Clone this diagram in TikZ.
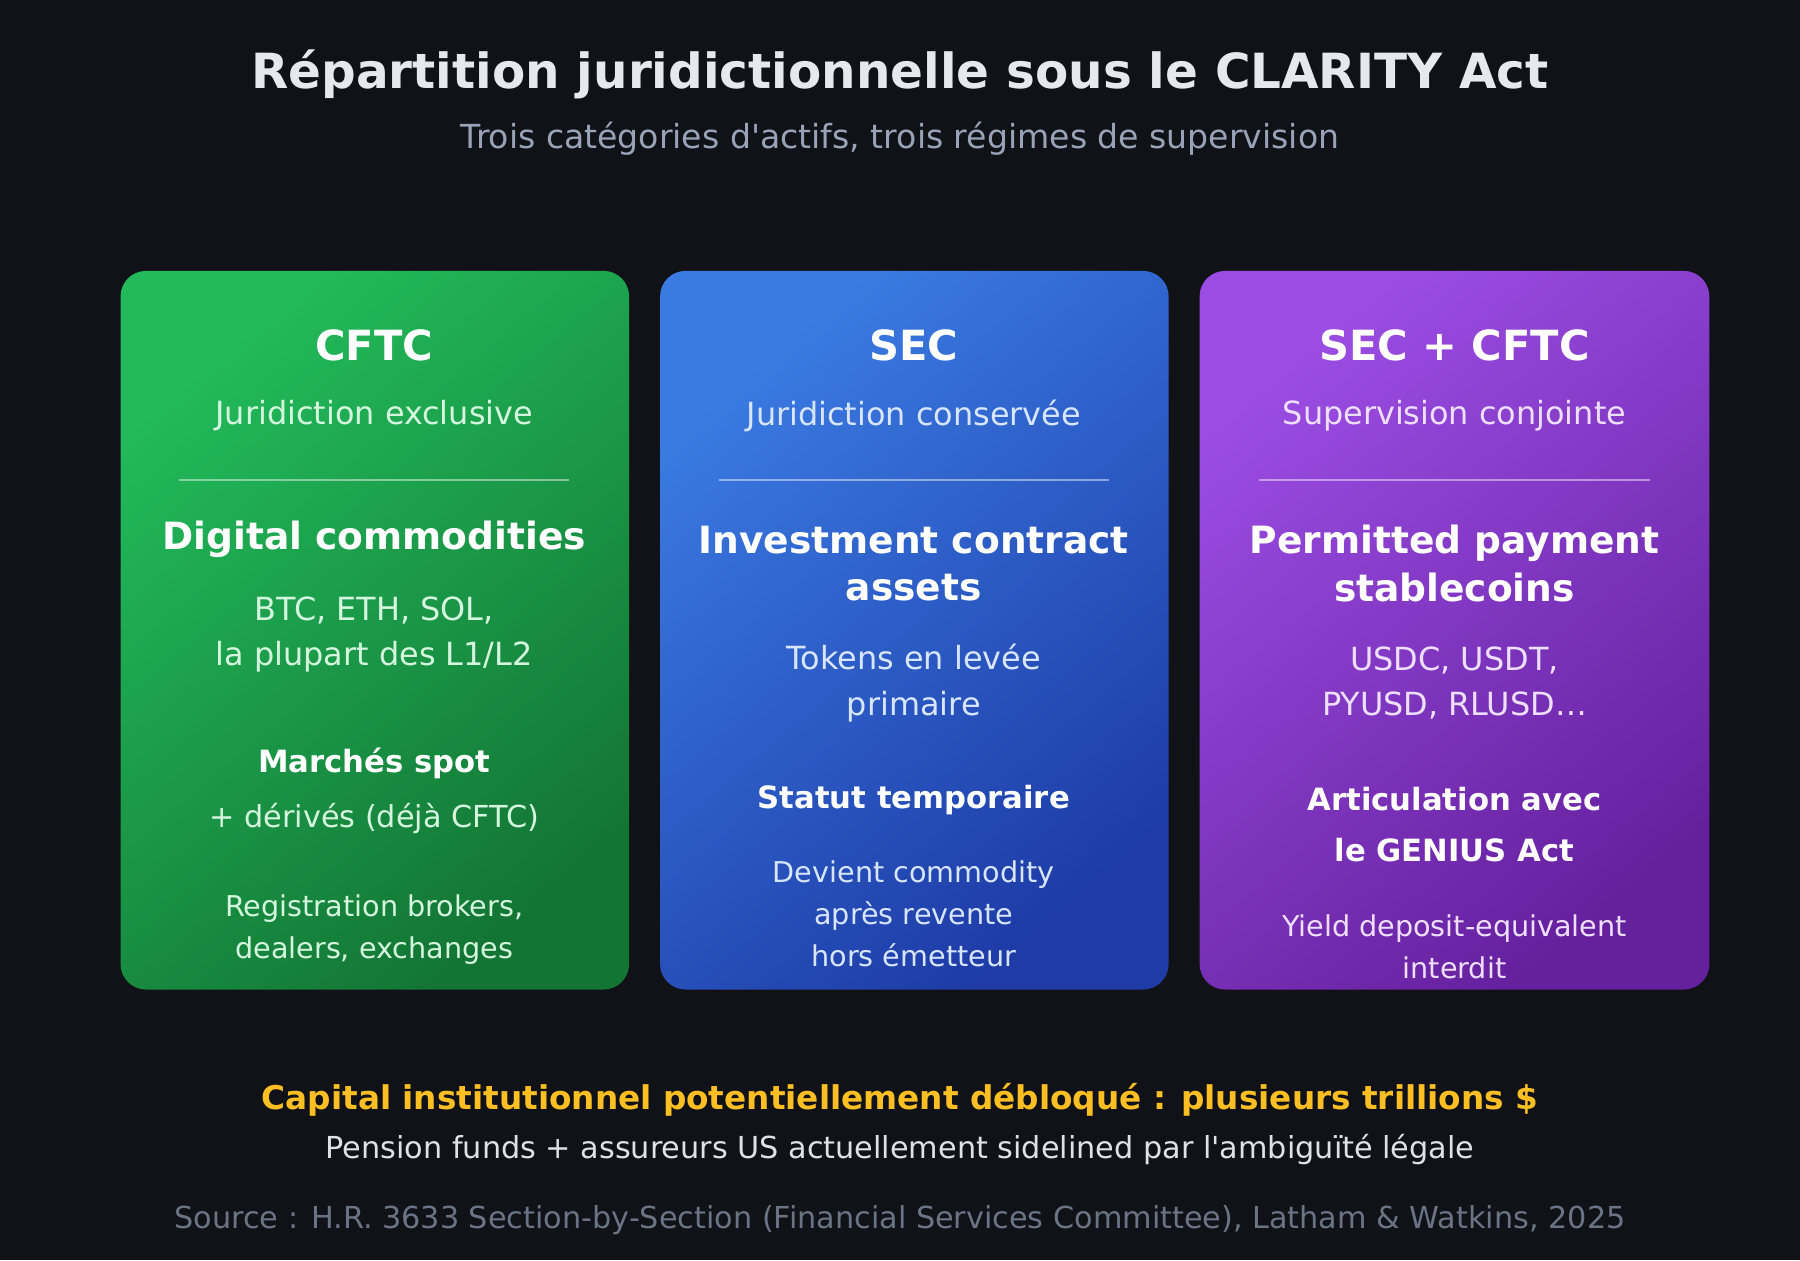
\documentclass[tikz,border=0pt]{standalone}
\usepackage{fontspec}
\setmainfont{DejaVu Sans}
\definecolor{bgdark}{HTML}{111217}
\definecolor{titlegray}{HTML}{E6E8EE}
\definecolor{subgray}{HTML}{98A2B8}
\definecolor{gold}{HTML}{FBBF24}
\definecolor{srcgray}{HTML}{6B7386}
\definecolor{greenA}{HTML}{22BA5A}
\definecolor{greenB}{HTML}{137534}
\definecolor{blueA}{HTML}{3A7BE2}
\definecolor{blueB}{HTML}{1E3BA6}
\definecolor{purpA}{HTML}{9B4DE3}
\definecolor{purpB}{HTML}{65209E}
\definecolor{greenT}{HTML}{D4F6DF}
\definecolor{blueT}{HTML}{D8E5FF}
\definecolor{purpT}{HTML}{EFDFFF}
\tikzset{
  card/.style={rounded corners=6.3pt},
  head/.style={text=white, font=\fontsize{10.3}{12}\selectfont\bfseries},
  sub/.style={font=\fontsize{7.9}{9}\selectfont},
  big/.style={text=white, align=center, font=\fontsize{9.3}{11.8}\selectfont\bfseries},
  body/.style={align=center, font=\fontsize{7.9}{11.2}\selectfont},
  mid/.style={text=white, align=center, font=\fontsize{7.6}{12.6}\selectfont\bfseries},
  small/.style={align=center, font=\fontsize{7.1}{10.4}\selectfont},
  rule/.style={white, opacity=0.45, line width=0.4pt}
}
\begin{document}
\begin{tikzpicture}[x=0.01cm, y=-0.01cm]
  \fill[bgdark] (0,0) rectangle (1568,1098);
  \node[text=titlegray, font=\fontsize{12}{14}\selectfont\bfseries] (title) at (784,65) {Répartition juridictionnelle sous le CLARITY Act};
  \node[text=subgray, font=\fontsize{8.2}{10}\selectfont] (subtitle) at (784,121) {Trois catégories d\textquotesingle actifs, trois régimes de supervision};
  % cards
  \path[card, top color=greenA, bottom color=greenB, shading angle=40] (105,236) rectangle (548,862);
  \path[card, top color=blueA, bottom color=blueB, shading angle=40] (575,236) rectangle (1018,862);
  \path[card, top color=purpA, bottom color=purpB, shading angle=40] (1045,236) rectangle (1489,862);
  \foreach \cx in {326, 796, 1267} {
    \draw[rule] (\cx-170,418) -- (\cx+170,418);
  }
  % CFTC
  \node[head] (cftc) at (326,301) {CFTC};
  \node[sub, text=greenT] (cftcsub) at (326,362) {Juridiction exclusive};
  \node[big] (cftcbig) at (326,470) {Digital commodities};
  \node[body, text=greenT] (cftcbody) at (326,553) {BTC, ETH, SOL,\\la plupart des L1/L2};
  \node[mid] (cftcmid) at (326,665) {Marchés spot};
  \node[small, text=greenT, font=\fontsize{7.5}{10}\selectfont] (cftcderiv) at (326,713) {+ dérivés (déjà CFTC)};
  \node[small, text=greenT] (cftcnote) at (326,810) {Registration brokers,\\dealers, exchanges};
  % SEC
  \node[head] (sec) at (796,301) {SEC};
  \node[sub, text=blueT] (secsub) at (796,362) {Juridiction conservée};
  \node[big] (secbig) at (796,491) {Investment contract\\assets};
  \node[body, text=blueT] (secbody) at (796,595) {Tokens en levée\\primaire};
  \node[mid] (secmid) at (796,697) {Statut temporaire};
  \node[small, text=blueT] (secnote) at (796,796) {Devient commodity\\après revente\\hors émetteur};
  % SEC + CFTC
  \node[head] (joint) at (1267,301) {SEC + CFTC};
  \node[sub, text=purpT] (jointsub) at (1267,362) {Supervision conjointe};
  \node[big] (jointbig) at (1267,491) {Permitted payment\\stablecoins};
  \node[body, text=purpT] (jointbody) at (1267,595) {USDC, USDT,\\PYUSD, RLUSD…};
  \node[mid] (jointmid) at (1267,718) {Articulation avec\\le GENIUS Act};
  \node[small, text=purpT] (jointnote) at (1267,825) {Yield deposit-equivalent\\interdit};
  % bottom
  \node[text=gold, font=\fontsize{8.1}{10}\selectfont\bfseries] (capital) at (784,958) {Capital institutionnel potentiellement débloqué : plusieurs trillions \$};
  \node[text=titlegray!90!subgray, font=\fontsize{7.5}{9}\selectfont] (pension) at (784,1001) {Pension funds + assureurs US actuellement sidelined par l\textquotesingle ambiguïté légale};
  \node[text=srcgray, font=\fontsize{7.5}{9}\selectfont] (source) at (784,1063) {Source : H.R. 3633 Section-by-Section (Financial Services Committee), Latham \& Watkins, 2025};
\end{tikzpicture}
\end{document}
